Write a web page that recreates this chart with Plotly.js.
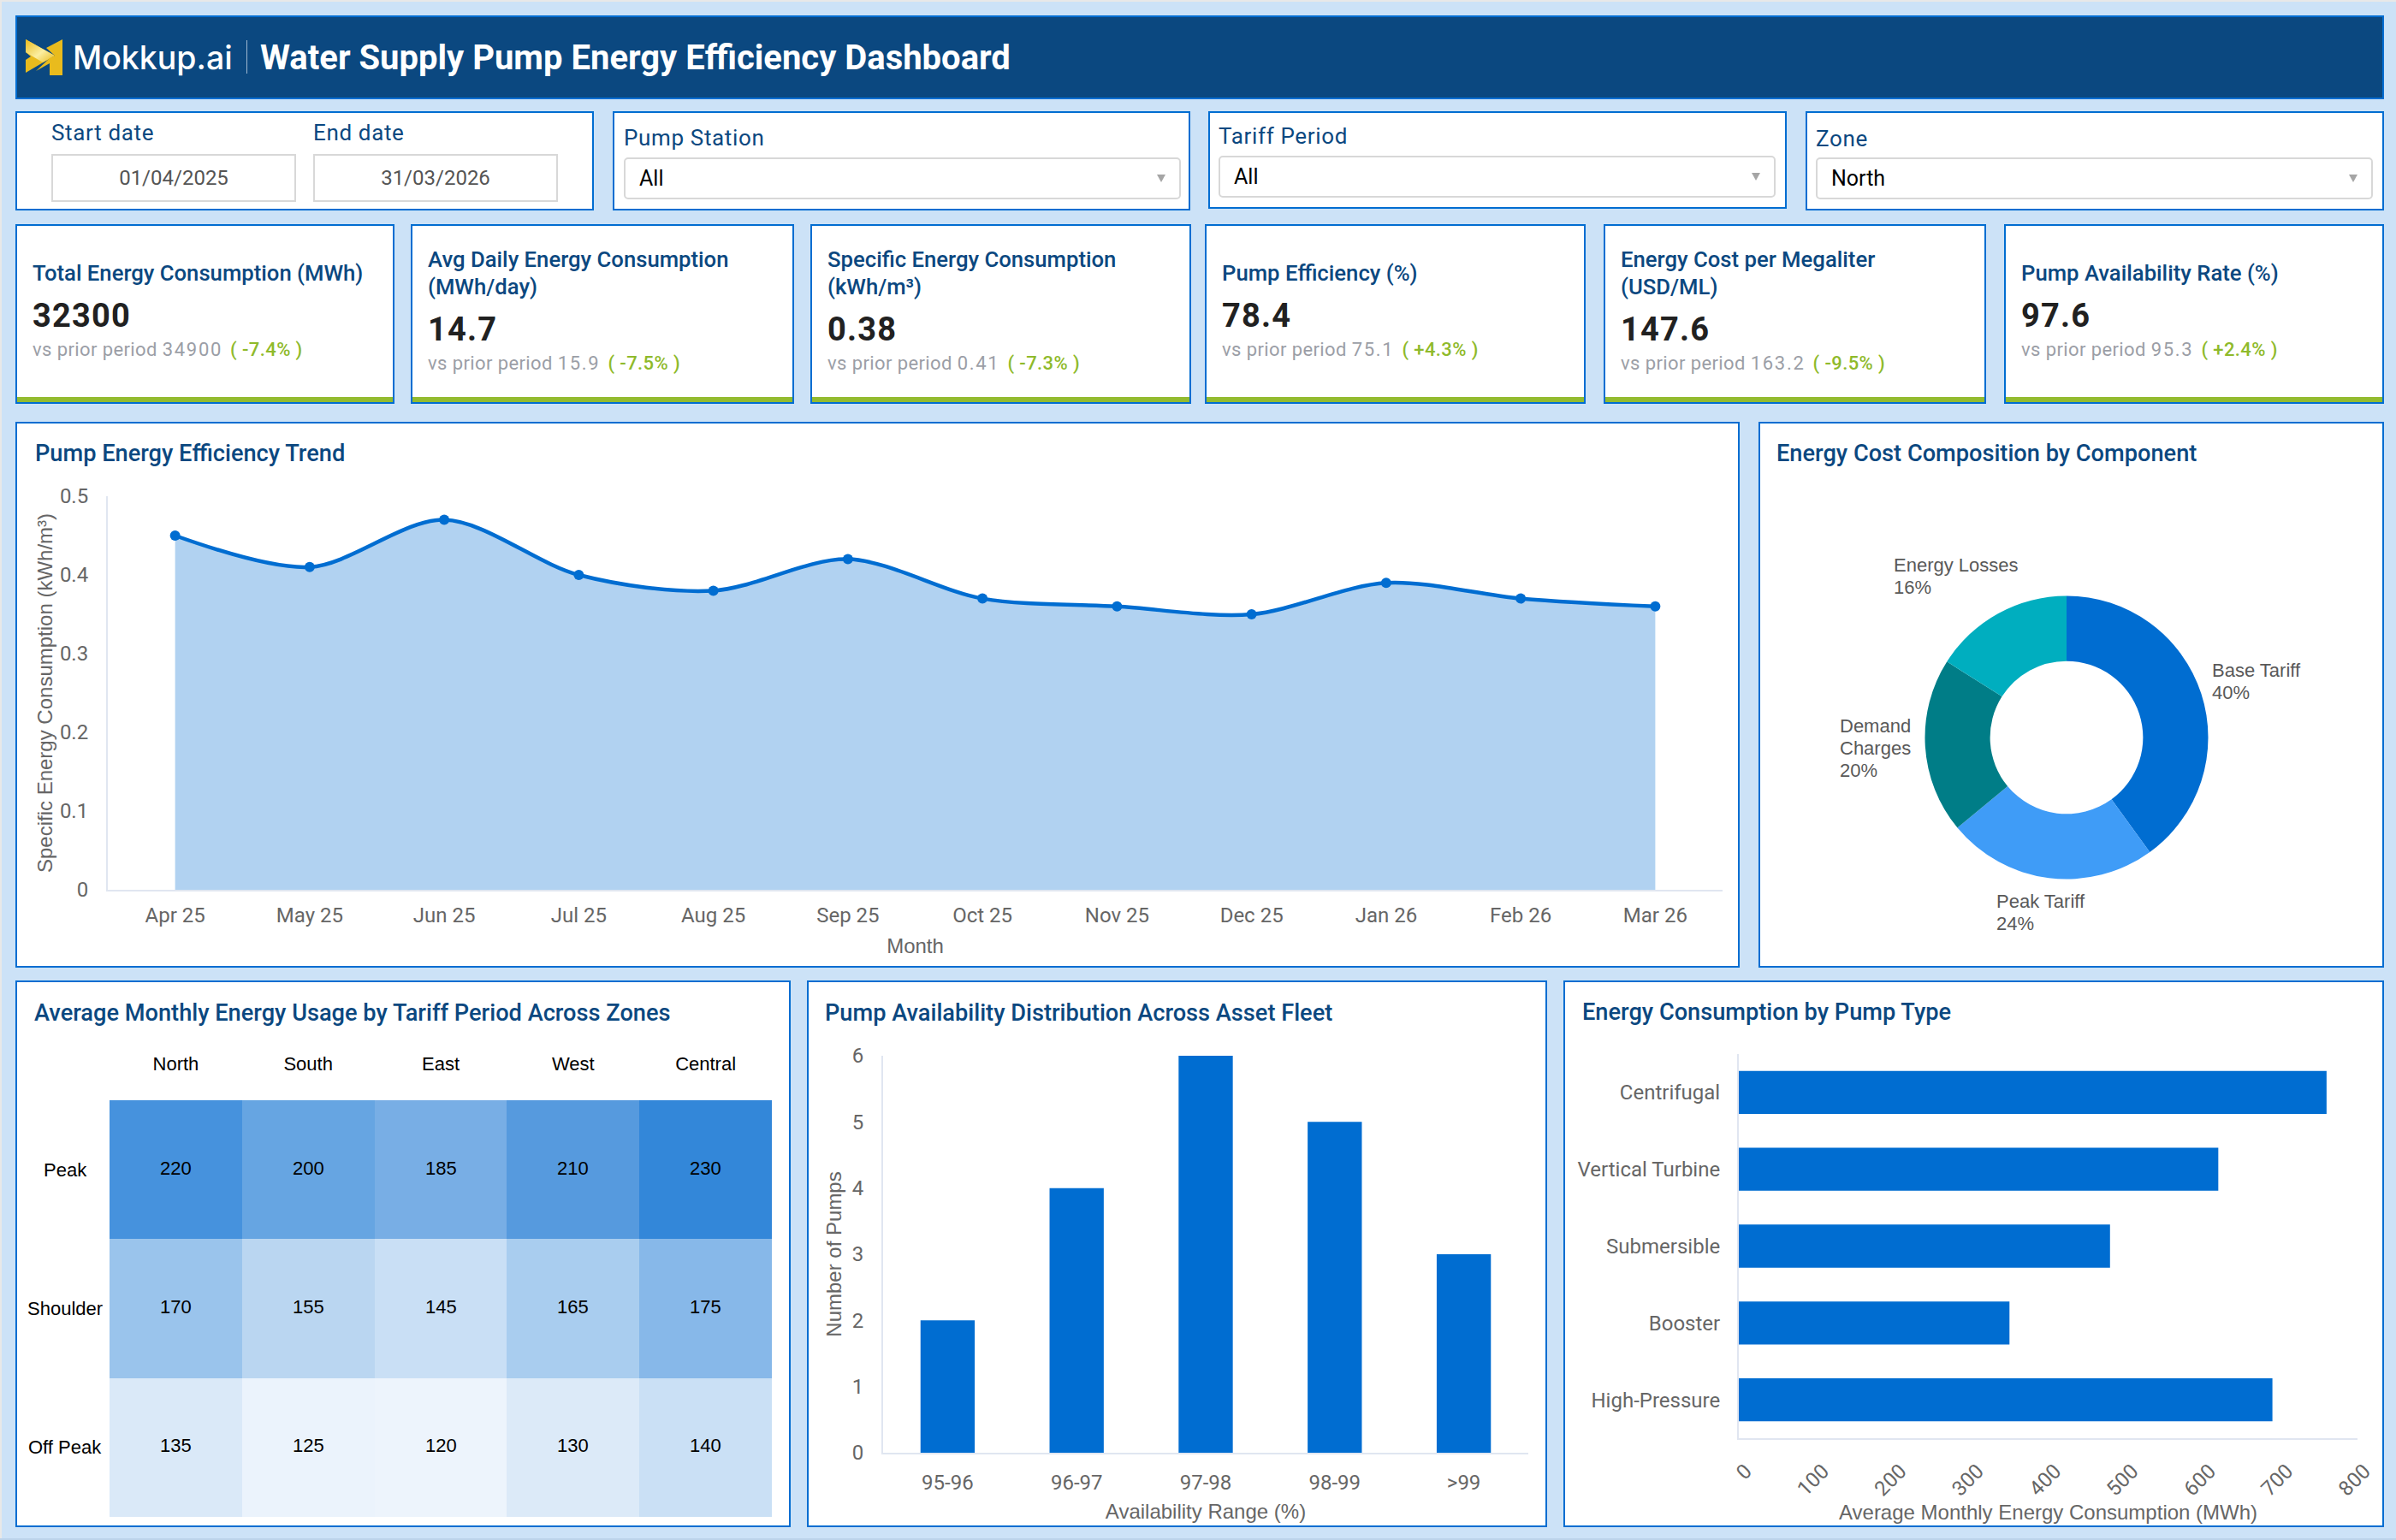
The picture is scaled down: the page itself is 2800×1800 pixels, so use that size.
<!DOCTYPE html>
<html><head><meta charset="utf-8">
<script src="https://cdn.plot.ly/plotly-3.0.1.min.js"></script>
<style>
html,body{margin:0;padding:0;width:2800px;height:1800px;overflow:hidden;background:#cce2f7;font-family:Roboto,sans-serif}
#top{position:absolute;left:0;top:0;width:2800px;height:2px;background:#e8e8e8}
#leftb{position:absolute;left:0;top:0;width:2px;height:1800px;background:#e8e8e8}
#bot{position:absolute;left:0;top:1798px;width:2800px;height:2px;background:#bcd3ea}
.card{position:absolute;box-sizing:border-box;background:#fff;border:2px solid #006dd1}
.t{position:absolute;white-space:nowrap;line-height:40px;height:40px}
.box{position:absolute;box-sizing:border-box;background:#fff}
.plot{position:absolute}
</style></head><body>
<div id="top"></div><div id="leftb"></div><div id="bot"></div>
<div id="ui"></div>
<script>
// ---------- chart data ----------
const months=['Apr 25','May 25','Jun 25','Jul 25','Aug 25','Sep 25','Oct 25','Nov 25','Dec 25','Jan 26','Feb 26','Mar 26'];
const secValues=[0.45,0.41,0.47,0.40,0.38,0.42,0.37,0.36,0.35,0.39,0.37,0.36];
const costLabels=['Base Tariff','Peak Tariff','Demand Charges','Energy Losses'];
const costValues=[40,24,20,16];
const costColors=['#006dd1','#3f9cf7','#007d87','#00aebf'];
const zones=['North','South','East','West','Central'];
const periods=['Peak','Shoulder','Off Peak'];
const peakUsage=[220,200,185,210,230];
const shoulderUsage=[170,155,145,165,175];
const offPeakUsage=[135,125,120,130,140];
const availRanges=['95-96','96-97','97-98','98-99','>99'];
const pumpCounts=[2,4,6,5,3];
const pumpTypes=['Centrifugal','Vertical Turbine','Submersible','Booster','High-Pressure'];
const pumpEnergy=[760,620,480,350,690];
// ---------- KPI data ----------
const kpiTitles=[['Total Energy Consumption (MWh)'],['Avg Daily Energy Consumption','(MWh/day)'],['Specific Energy Consumption','(kWh/m³)'],['Pump Efficiency (%)'],['Energy Cost per Megaliter','(USD/ML)'],['Pump Availability Rate (%)']];
const kpiValues=['32300','14.7','0.38','78.4','147.6','97.6'];
const kpiPrior=['34900','15.9','0.41','75.1','163.2','95.3'];
const kpiDelta=['-7.4%','-7.5%','-7.3%','+4.3%','-9.5%','+2.4%'];

const ui=document.getElementById('ui');
function el(cls,css,html){const d=document.createElement('div');d.className=cls;d.style.cssText=css;if(html!==undefined)d.innerHTML=html;ui.appendChild(d);return d;}
function card(x0,y0,x1,y1,extra){return el('card',`left:${x0}px;top:${y0}px;width:${x1-x0}px;height:${y1-y0}px;${extra||''}`);}
function txt(x,cy,s,css){return el('t',`left:${x}px;top:${cy-20}px;${css}`,s);}

// header
card(18,18,2786,116,'background:#0b4880');
const logo=document.createElement('div');
logo.style.cssText='position:absolute;left:28px;top:44px;width:48px;height:46px';
logo.innerHTML=`<svg width="48" height="46" viewBox="0 0 48 46"><defs><linearGradient id="g" x1="0" y1="0" x2="1" y2="1"><stop offset="0" stop-color="#e9bb1d"/><stop offset=".55" stop-color="#fbeea0"/><stop offset="1" stop-color="#e9bb1d"/></linearGradient></defs>
<path d="M2 2 L36 21 L2 41 L2 26 L8 22 L2 17 Z" fill="#e9bb1d"/><path d="M2 2 L36 21 L22 29 L2 17 Z" fill="url(#g)"/><path d="M45 2 L45 44 L30 44 L30 30 L14 39 L30 24 L36 21 L26 12 Z" fill="#e9bb1d"/></svg>`;
ui.appendChild(logo);
txt(85,68,'Mokkup.ai','font-family:Inter,sans-serif;font-weight:500;font-size:37.5px;color:#fff');
el('box','left:288px;top:47px;width:1px;height:39px;background:#9fb9d2');
txt(304,68,'Water Supply Pump Energy Efficiency Dashboard','font-weight:700;font-size:40px;color:#fff');

// filters
card(18,130,694,246);
card(716,130,1391,246);
card(1412,130,2088,244);
card(2110,130,2786,246);
const labelCss='font-size:26px;letter-spacing:0.65px;color:#0b4880;';
txt(60,155,'Start date',labelCss);
txt(366,155,'End date',labelCss);
function dateBox(x,s){el('box',`left:${x}px;top:180px;width:286px;height:56px;border:2px solid #d8d8d8;text-align:center;line-height:52px;font-size:24px;color:#555`,s);}
dateBox(60,'01/04/2025');dateBox(366,'31/03/2026');
function select(x,y,w,label,val,labelY){
  txt(x,labelY,label,labelCss);
  el('box',`left:${x}px;top:${y}px;width:${w}px;height:49px;border:2px solid #d8d8d8;border-radius:5px;line-height:46px;padding-left:16px;font-size:25px;color:#000`,val);
  el('box',`left:${x+w-28}px;top:${y+20}px;width:0;height:0;background:none;border-left:5px solid transparent;border-right:5px solid transparent;border-top:9px solid #a5a5a5`);
}
select(729,184,651,'Pump Station','All',161);
select(1424,182,651,'Tariff Period','All',159);
select(2122,184,651,'Zone','North',162);

// KPI cards
const kpiX=[[18,461],[480,928],[947,1392],[1408,1853],[1874,2321],[2342,2786]];
kpiX.forEach((r,i)=>{
  card(r[0],262,r[1],472);
  el('box',`left:${r[0]+2}px;top:464px;width:${r[1]-r[0]-4}px;height:6px;background:#93bb2f`);
  const two=kpiTitles[i].length===2, tx=r[0]+20;
  const tc='font-weight:500;font-size:25.7px;color:#0b4880';
  if(two){txt(tx,303,kpiTitles[i][0],tc);txt(tx,335,kpiTitles[i][1],tc);}
  else txt(tx,319,kpiTitles[i][0],tc);
  const dy=two?16:0;
  txt(tx,369+dy,kpiValues[i],'font-weight:700;font-size:38px;color:#212121;letter-spacing:1.2px');
  txt(tx,409+dy,`vs prior period <span style="letter-spacing:1.7px">${kpiPrior[i]}</span><span style="color:#8fba2b;font-weight:500;margin-left:9px;letter-spacing:0.4px">( ${kpiDelta[i]} )</span>`,'font-size:22px;letter-spacing:0.4px;color:#9b9ea6');
});

// chart cards & titles
const titleCss='font-weight:500;font-size:27.2px;color:#0b4880';
card(18,493,2033,1131); txt(41,530,'Pump Energy Efficiency Trend',titleCss);
card(2055,493,2786,1131); txt(2076,530,'Energy Cost Composition by Component',titleCss);
card(18,1146,924,1785); txt(40,1184,'Average Monthly Energy Usage by Tariff Period Across Zones',titleCss);
card(943,1146,1808,1785); txt(964,1184,'Pump Availability Distribution Across Asset Fleet',titleCss);
card(1827,1146,2786,1785); txt(1849,1183,'Energy Consumption by Pump Type',titleCss);

function mount(x,y,w,h){const d=document.createElement('div');d.className='plot';d.style.cssText=`left:${x}px;top:${y}px;width:${w}px;height:${h}px`;document.body.appendChild(d);return d;}
const cfg={displayModeBar:false,responsive:false};
const tickFont={family:'Roboto',size:24,color:'#666'};
const axTitleFont={family:'Liberation Sans',size:24,color:'#666'};
const lineCol='#e0e6f1';
const base={paper_bgcolor:'rgba(0,0,0,0)',plot_bgcolor:'rgba(0,0,0,0)',showlegend:false};

// trend
Plotly.newPlot(mount(20,562,2011,568),[{
  type:'scatter',mode:'lines+markers',x:months,y:secValues,fill:'tozeroy',fillcolor:'#b1d2f1',
  line:{color:'#006dd1',width:4.5,shape:'spline',smoothing:0.9},marker:{color:'#006dd1',size:12}
}],{...base,width:2011,height:568,margin:{l:106,r:18,t:18,b:90},
  xaxis:{type:'category',range:[-0.5,11.5],showgrid:false,zeroline:false,showline:true,linecolor:lineCol,linewidth:2,ticks:'',tickfont:tickFont,ticklabelstandoff:7,
    title:{text:'Month',font:axTitleFont,standoff:14}},
  yaxis:{range:[0,0.5],dtick:0.1,showgrid:false,zeroline:false,showline:true,linecolor:lineCol,linewidth:2,ticks:'',tickfont:tickFont,ticklabelstandoff:16,
    title:{text:'Specific Energy Consumption (kWh/m³)',font:axTitleFont,standoff:1}}
},cfg);

// donut
const pieLabelPos=[{x:2583,y:783},{x:2331,y:1053},{x:2148,y:848},{x:2211,y:661}];
const pieLines=[['Base Tariff'],['Peak Tariff'],['Demand','Charges'],['Energy Losses']];
const px=2056,py=562,pw=728,ph=568,cx=2415,cy=862,R=165.5;
const total=costValues.reduce((a,b)=>a+b,0);
const pieAnn=[];
costLabels.forEach((l,i)=>{
  const lines=pieLines[i].concat([Math.round(costValues[i]/total*100)+'%']);
  lines.forEach((s,j)=>pieAnn.push({xref:'paper',yref:'paper',x:(pieLabelPos[i].x-px)/pw,y:1-(pieLabelPos[i].y+j*26-py)/ph,text:s,showarrow:false,xanchor:'left',yanchor:'middle',align:'left',font:{family:'Liberation Sans',size:22,color:'#595959'}}));
});
Plotly.newPlot(mount(px,py,pw,ph),[{
  type:'pie',labels:costLabels,values:costValues,hole:0.54,sort:false,direction:'clockwise',rotation:0,
  marker:{colors:costColors,line:{width:0}},textinfo:'none',
  domain:{x:[(cx-R-px)/pw,(cx+R-px)/pw],y:[1-(cy+R-py)/ph,1-(cy-R-py)/ph]}
}],{...base,width:pw,height:ph,margin:{l:0,r:0,t:0,b:0},annotations:pieAnn},cfg);

// heatmap
const blackFont={family:'Liberation Sans',size:22,color:'#000'};
const usage=[peakUsage,shoulderUsage,offPeakUsage];
const heatStops=[[120,'#edf4fc'],[125,'#ebf3fc'],[130,'#dceaf8'],[135,'#dae9f8'],[140,'#cae0f5'],[145,'#c9dff5'],[155,'#bad6f1'],[165,'#a9cdef'],[170,'#9ac4ec'],[175,'#87b8e9'],[185,'#78aee5'],[200,'#66a5e2'],[210,'#569ade'],[220,'#4692dd'],[230,'#3387d9']];
const heatAnn=periods.map(p=>({xref:'paper',yref:'y',x:(76-128)/774,y:p,text:p,showarrow:false,xanchor:'center',yanchor:'middle',font:blackFont}));
periods.forEach((p,r)=>zones.forEach((z,c)=>heatAnn.push({xref:'x',yref:'y',x:z,y:p,text:String(usage[r][c]),showarrow:false,yshift:2,font:blackFont})));
Plotly.newPlot(mount(20,1205,902,578),[{
  type:'heatmap',x:zones,y:periods,z:usage,zmin:120,zmax:230,
  colorscale:heatStops.map(s=>[(s[0]-120)/110,s[1]]),showscale:false,xgap:0,ygap:0
}],{...base,width:902,height:578,margin:{l:108,r:20,t:81,b:10},
  xaxis:{side:'top',type:'category',showgrid:false,zeroline:false,showline:false,ticks:'',tickfont:blackFont,ticklabelstandoff:30},
  yaxis:{type:'category',autorange:'reversed',showgrid:false,zeroline:false,showline:false,ticks:'',showticklabels:false},
  annotations:heatAnn
},cfg);

// availability bars
Plotly.newPlot(mount(945,1205,861,578),[{
  type:'bar',x:availRanges,y:pumpCounts,marker:{color:'#006dd1'},width:0.42
}],{...base,width:861,height:578,margin:{l:87,r:20,t:29,b:85},bargap:0.58,
  xaxis:{type:'category',showgrid:false,zeroline:false,showline:true,linecolor:lineCol,linewidth:2,ticks:'',tickfont:tickFont,ticklabelstandoff:12,
    title:{text:'Availability Range (%)',font:axTitleFont,standoff:12}},
  yaxis:{range:[0,6],dtick:1,showgrid:false,zeroline:false,showline:true,linecolor:lineCol,linewidth:2,ticks:'',tickfont:tickFont,ticklabelstandoff:16,
    title:{text:'Number of Pumps',font:axTitleFont,standoff:5}}
},cfg);

// pump type bars
Plotly.newPlot(mount(1832,1205,952,578),[{
  type:'bar',orientation:'h',y:pumpTypes,x:pumpEnergy,marker:{color:'#006dd1'}
}],{...base,width:952,height:578,margin:{l:200,r:29,t:27,b:102},bargap:0.44,
  yaxis:{type:'category',autorange:'reversed',showgrid:false,zeroline:false,showline:true,linecolor:lineCol,linewidth:2,ticks:'',tickfont:tickFont,ticklabelstandoff:15},
  xaxis:{range:[0,800],dtick:100,tickangle:-45,showgrid:false,zeroline:false,showline:true,linecolor:lineCol,linewidth:2,ticks:'',tickfont:tickFont,ticklabelstandoff:13,ticklabelshift:8,
    title:{text:'Average Monthly Energy Consumption (MWh)',font:axTitleFont,standoff:5}}
},cfg);
</script>
</body></html>
